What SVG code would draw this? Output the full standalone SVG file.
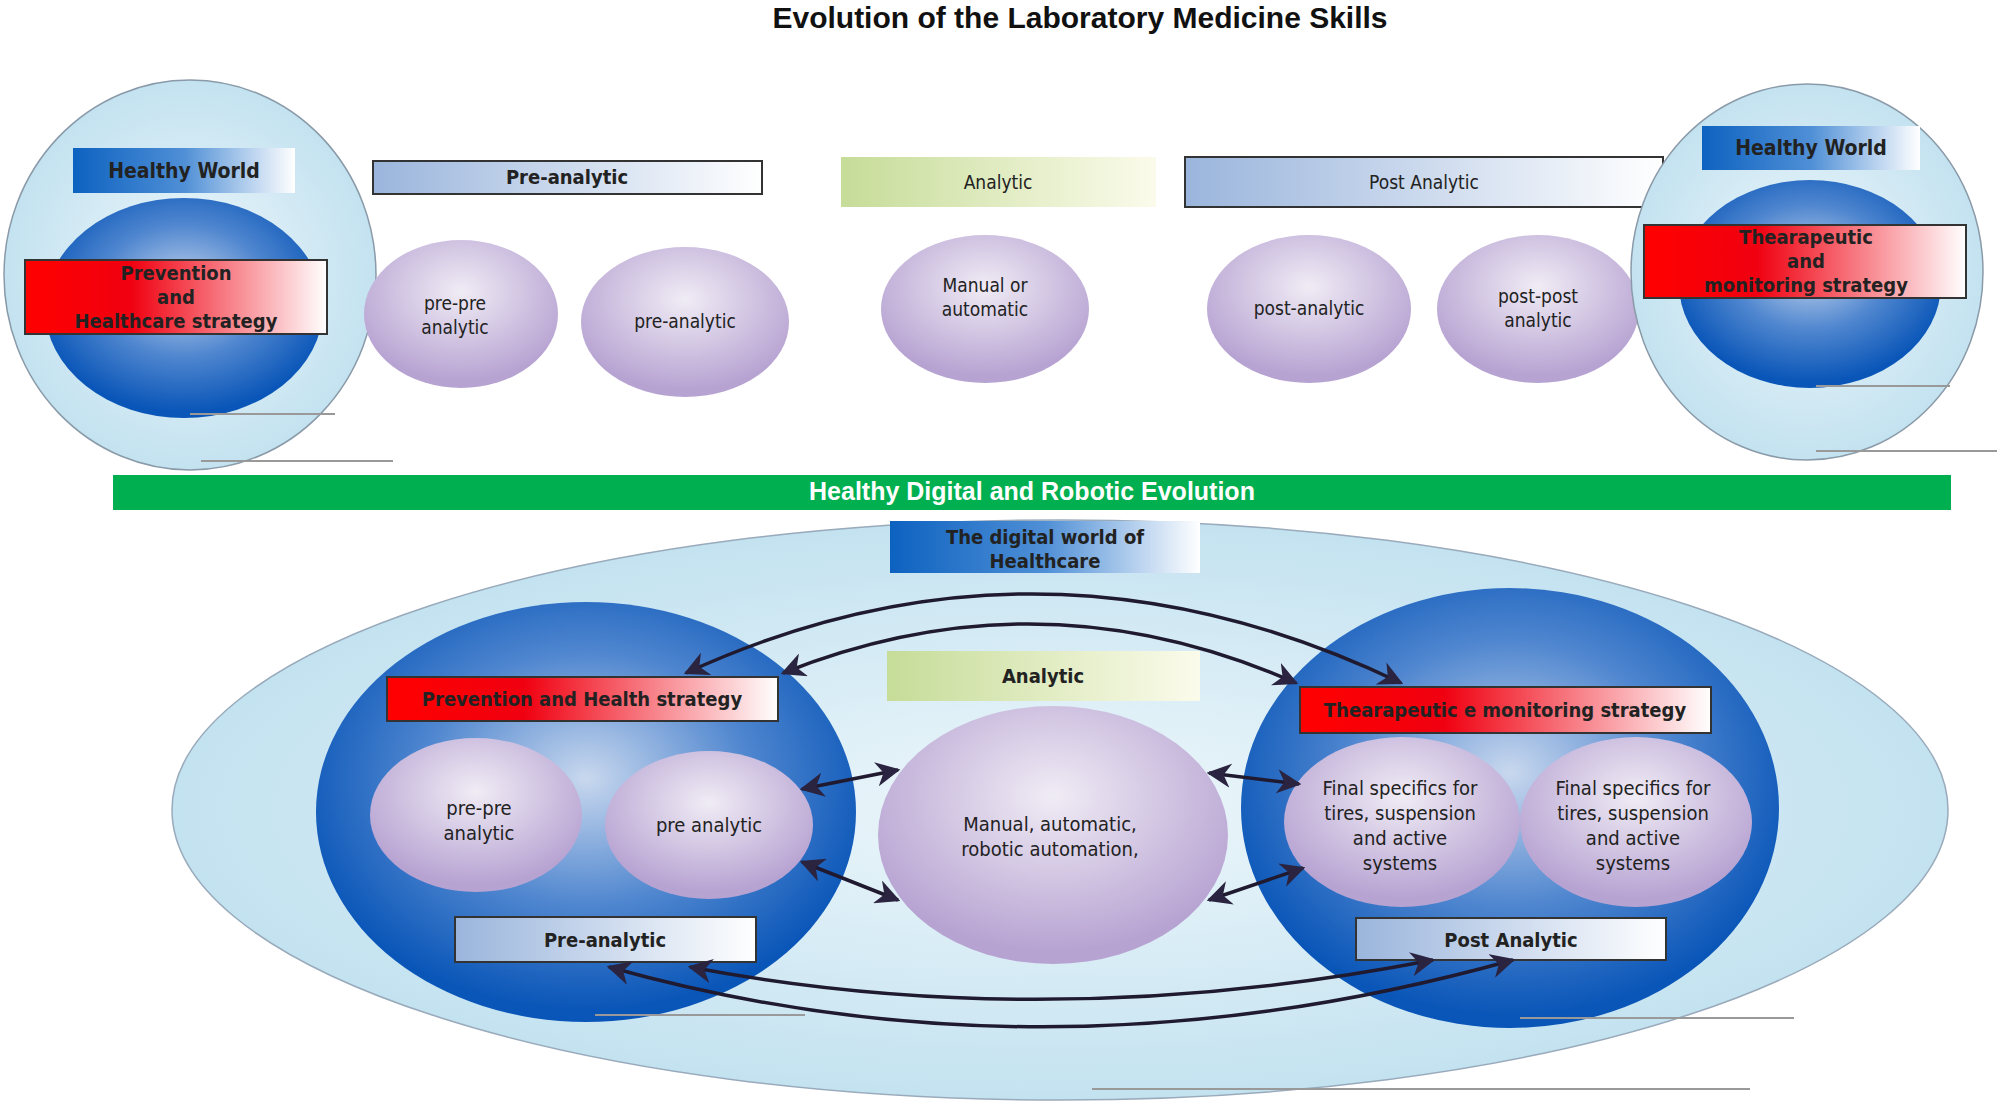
<svg xmlns="http://www.w3.org/2000/svg" width="2001" height="1107" viewBox="0 0 2001 1107">
<defs>
<radialGradient id="sph" cx="50%" cy="42%" r="55%"><stop offset="0" stop-color="#c9d8ee"/><stop offset="0.55" stop-color="#4f86cf"/><stop offset="1" stop-color="#0a56b8"/></radialGradient>
<radialGradient id="blob" cx="50%" cy="35%" r="60%"><stop offset="0" stop-color="#f0ecf5"/><stop offset="1" stop-color="#b7a3d2"/></radialGradient>
<radialGradient id="halo" cx="50%" cy="50%" r="55%"><stop offset="0" stop-color="#eef7fb"/><stop offset="1" stop-color="#bfe0ef"/></radialGradient>
<linearGradient id="red" x1="0" x2="1"><stop offset="0" stop-color="#ff0000"/><stop offset="0.35" stop-color="#f00010"/><stop offset="1" stop-color="#ffffff"/></linearGradient>
<linearGradient id="hw" x1="0" x2="1"><stop offset="0" stop-color="#0d62c0"/><stop offset="0.5" stop-color="#4f8fd6"/><stop offset="1" stop-color="#ffffff"/></linearGradient>
<linearGradient id="pa" x1="0" x2="1"><stop offset="0" stop-color="#9ab5dc"/><stop offset="1" stop-color="#ffffff"/></linearGradient>
<linearGradient id="an" x1="0" x2="1"><stop offset="0" stop-color="#c6dc98"/><stop offset="1" stop-color="#fbfbeb"/></linearGradient>
<marker id="ah" viewBox="0 0 10 10" refX="9" refY="5" markerWidth="7" markerHeight="7" orient="auto-start-reverse"><path d="M0,0 L10,5 L0,10 L3,5 z" fill="#2a2440"/></marker>
<style>
.t{font-family:"DejaVu Sans Condensed","DejaVu Sans",sans-serif;fill:#222;text-anchor:middle}
.b{font-weight:bold}
.box{stroke:#333;stroke-width:2}
.gl{stroke:#999;stroke-width:2}
.cn{fill:none;stroke:#1f1a30;stroke-width:3.5;marker-start:url(#ah);marker-end:url(#ah)}
</style>
</defs>
<rect width="2001" height="1107" fill="#ffffff"/>
<text x="1080" y="28" font-family="Liberation Sans,Arial,sans-serif" font-weight="bold" font-size="30" text-anchor="middle" fill="#111">Evolution of the Laboratory Medicine  Skills</text>

<g id="leftWorld">
<ellipse cx="190" cy="275" rx="186" ry="195" fill="url(#halo)" stroke="#8a9aa8" stroke-width="1.5"/>
<ellipse cx="184" cy="308" rx="139" ry="110" fill="url(#sph)"/>
<rect x="73" y="148" width="222" height="45" fill="url(#hw)"/>
<text class="t b" x="184" y="178" font-size="21">Healthy World</text>
<rect class="box" x="25" y="260" width="302" height="74" fill="url(#red)"/>
<text class="t b" x="176" y="280" font-size="20">Prevention</text>
<text class="t b" x="176" y="304" font-size="20">and</text>
<text class="t b" x="176" y="328" font-size="20">Healthcare strategy</text>
<line class="gl" x1="190" y1="414" x2="335" y2="414"/>
<line class="gl" x1="201" y1="461" x2="393" y2="461"/>
</g>

<g id="preTop">
<rect class="box" x="373" y="161" width="389" height="33" fill="url(#pa)"/>
<text class="t b" x="567" y="184" font-size="20">Pre-analytic</text>
</g>
<g id="prepreTop"><ellipse cx="461" cy="314" rx="97" ry="74" fill="url(#blob)"/>
<text class="t" x="455" y="310" font-size="19">pre-pre</text><text class="t" x="455" y="334" font-size="19">analytic</text></g>
<g id="preanTop"><ellipse cx="685" cy="322" rx="104" ry="75" fill="url(#blob)"/>
<text class="t" x="685" y="328" font-size="19">pre-analytic</text></g>
<g id="anTop"><rect x="841" y="157" width="315" height="50" fill="url(#an)"/>
<text class="t" x="998" y="189" font-size="19">Analytic</text></g>
<g id="manTop"><ellipse cx="985" cy="309" rx="104" ry="74" fill="url(#blob)"/>
<text class="t" x="985" y="292" font-size="19">Manual or</text><text class="t" x="985" y="316" font-size="19">automatic</text></g>
<g id="postTop"><rect class="box" x="1185" y="157" width="478" height="50" fill="url(#pa)"/>
<text class="t" x="1424" y="189" font-size="19">Post Analytic</text></g>
<g id="postanTop"><ellipse cx="1309" cy="309" rx="102" ry="74" fill="url(#blob)"/>
<text class="t" x="1309" y="315" font-size="19">post-analytic</text></g>
<g id="postpostTop"><ellipse cx="1538" cy="309" rx="101" ry="74" fill="url(#blob)"/>
<text class="t" x="1538" y="303" font-size="19">post-post</text><text class="t" x="1538" y="327" font-size="19">analytic</text></g>

<g id="rightWorld">
<ellipse cx="1807" cy="272" rx="176" ry="188" fill="url(#halo)" stroke="#8a9aa8" stroke-width="1.5"/>
<ellipse cx="1810" cy="284" rx="131" ry="104" fill="url(#sph)"/>
<rect x="1702" y="126" width="218" height="44" fill="url(#hw)"/>
<text class="t b" x="1811" y="155" font-size="21">Healthy World</text>
<rect class="box" x="1644" y="225" width="322" height="73" fill="url(#red)"/>
<text class="t b" x="1806" y="244" font-size="20">Thearapeutic</text>
<text class="t b" x="1806" y="268" font-size="20">and</text>
<text class="t b" x="1806" y="292" font-size="20">monitoring strategy</text>
<line class="gl" x1="1816" y1="386" x2="1950" y2="386"/>
<line class="gl" x1="1816" y1="451" x2="1997" y2="451"/>
</g>

<g id="greenBar"><rect x="113" y="475" width="1838" height="35" fill="#00b050"/>
<text x="1032" y="500" font-family="Liberation Sans,Arial,sans-serif" font-weight="bold" font-size="25" text-anchor="middle" fill="#fff">Healthy Digital and Robotic Evolution</text></g>

<g id="digitalWorld">
<ellipse cx="1060" cy="810" rx="888" ry="290" fill="url(#halo)" stroke="#9ab" stroke-width="1.5"/>
<rect x="890" y="521" width="310" height="52" fill="url(#hw)"/>
<text class="t b" x="1045" y="544" font-size="20">The digital world of</text>
<text class="t b" x="1045" y="568" font-size="20">Healthcare</text>
<line class="gl" x1="1092" y1="1089" x2="1750" y2="1089"/>
</g>
<g id="leftSphere">
<ellipse cx="586" cy="812" rx="270" ry="210" fill="url(#sph)"/>
<line class="gl" x1="595" y1="1015" x2="805" y2="1015"/>
</g>
<g id="rightSphere">
<ellipse cx="1510" cy="808" rx="269" ry="220" fill="url(#sph)"/>
<line class="gl" x1="1520" y1="1018" x2="1794" y2="1018"/>
</g>
<g id="anBot"><rect x="887" y="651" width="313" height="50" fill="url(#an)"/>
<text class="t b" x="1043" y="683" font-size="20">Analytic</text></g>
<g id="prevBot"><rect class="box" x="387" y="677" width="391" height="44" fill="url(#red)"/>
<text class="t b" x="582" y="706" font-size="20">Prevention and Health strategy</text></g>
<g id="therBot"><rect class="box" x="1300" y="687" width="411" height="46" fill="url(#red)"/>
<text class="t b" x="1505" y="717" font-size="20">Thearapeutic e monitoring strategy</text></g>
<g id="prepreBot"><ellipse cx="476" cy="815" rx="106" ry="77" fill="url(#blob)"/>
<text class="t" x="479" y="815" font-size="20">pre-pre</text><text class="t" x="479" y="840" font-size="20">analytic</text></g>
<g id="preanBot"><ellipse cx="709" cy="825" rx="104" ry="74" fill="url(#blob)"/>
<text class="t" x="709" y="832" font-size="20">pre analytic</text></g>
<g id="centralBot"><ellipse cx="1053" cy="835" rx="175" ry="129" fill="url(#blob)"/>
<text class="t" x="1050" y="831" font-size="20">Manual, automatic,</text><text class="t" x="1050" y="856" font-size="20">robotic automation,</text></g>
<g id="final1"><ellipse cx="1402" cy="822" rx="118" ry="85" fill="url(#blob)"/>
<text class="t" x="1400" y="795" font-size="20">Final specifics for</text><text class="t" x="1400" y="820" font-size="20">tires, suspension</text><text class="t" x="1400" y="845" font-size="20">and active</text><text class="t" x="1400" y="870" font-size="20">systems</text></g>
<g id="final2"><ellipse cx="1636" cy="822" rx="116" ry="85" fill="url(#blob)"/>
<text class="t" x="1633" y="795" font-size="20">Final specifics for</text><text class="t" x="1633" y="820" font-size="20">tires, suspension</text><text class="t" x="1633" y="845" font-size="20">and active</text><text class="t" x="1633" y="870" font-size="20">systems</text></g>
<g id="preBot"><rect class="box" x="455" y="917" width="301" height="45" fill="url(#pa)"/>
<text class="t b" x="605" y="947" font-size="20">Pre-analytic</text></g>
<g id="postBot"><rect class="box" x="1356" y="918" width="310" height="42" fill="url(#pa)"/>
<text class="t b" x="1511" y="947" font-size="20">Post Analytic</text></g>

<g id="connectors">
<path class="cn" d="M686,673 Q1041,510 1401,683"/>
<path class="cn" d="M783,673 Q1041,570 1296,683"/>
<path class="cn" d="M609,967 Q1047,1090 1513,960"/>
<path class="cn" d="M690,967 Q1047,1035 1433,960"/>
<path class="cn" d="M802,789 L898,770"/>
<path class="cn" d="M802,862 L898,900"/>
<path class="cn" d="M1209,773 L1299,784"/>
<path class="cn" d="M1209,900 L1303,868"/>
</g>
</svg>
